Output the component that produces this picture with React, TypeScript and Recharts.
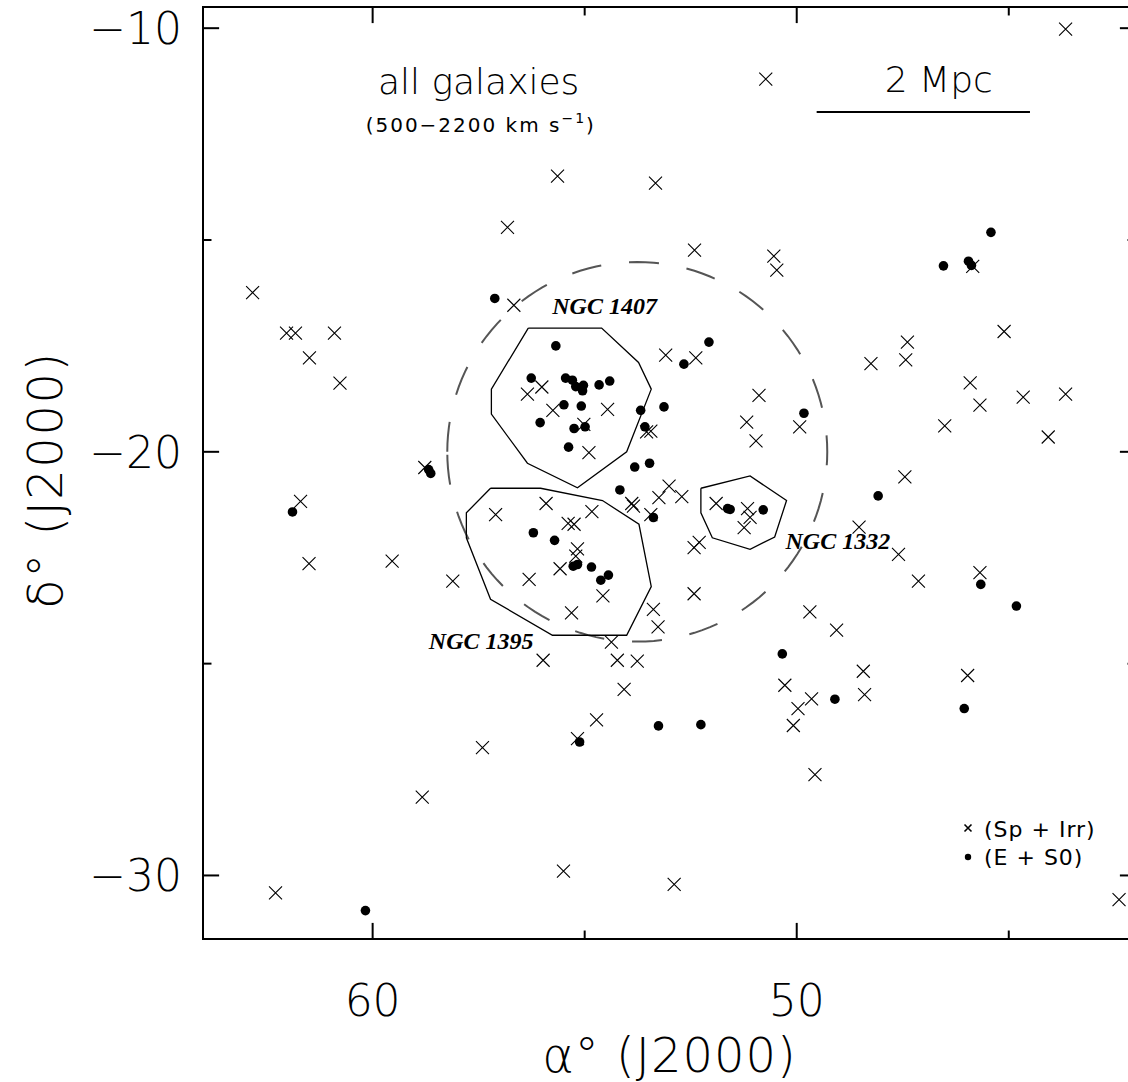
import React from 'react';
import {
  ScatterChart,
  Scatter,
  XAxis,
  YAxis,
  ReferenceArea,
  ReferenceLine,
  ReferenceDot,
  Legend,
} from 'recharts';

// ---------------- data ----------------
// Spiral + irregular galaxies (RA deg, Dec deg)
const spirals: [number, number][] = [
  [43.66, -10.02], [50.73, -11.2], [55.64, -13.49], [53.33, -13.66], [56.82, -14.7],
  [52.41, -15.24], [50.54, -15.38], [50.47, -15.71], [45.85, -15.62], [62.83, -16.24],
  [56.67, -16.54], [62.03, -17.2], [61.82, -17.2], [60.9, -17.2], [61.49, -17.78],
  [60.77, -18.38], [58.77, -20.37], [61.7, -21.17], [61.5, -22.64], [59.54, -22.58],
  [58.11, -23.05], [57.1, -21.48], [56.35, -18.64], [56.01, -18.47], [55.75, -19.02],
  [54.46, -19.0], [55.02, -19.35], [54.9, -20.02], [53.09, -17.72], [52.38, -17.78],
  [53.54, -19.53], [53.44, -19.51], [50.89, -18.67], [51.18, -19.3], [50.96, -19.74],
  [49.93, -19.41], [53.01, -20.81], [53.25, -21.08], [52.71, -21.06], [53.89, -21.22],
  [53.85, -21.28], [53.44, -21.48], [51.9, -21.22], [51.16, -21.34], [51.1, -21.55],
  [51.24, -21.79], [52.42, -22.26], [52.3, -22.14], [55.91, -21.22], [55.39, -21.69],
  [55.25, -21.71], [54.83, -21.41], [55.17, -22.29], [55.21, -22.46], [55.58, -22.76],
  [56.31, -23.01], [54.57, -23.4], [55.31, -23.8], [53.38, -23.72], [52.42, -23.35],
  [49.69, -23.78], [53.27, -24.13], [54.37, -24.49], [54.23, -24.92], [53.76, -24.94],
  [54.07, -25.61], [54.72, -26.33], [55.17, -26.77], [49.06, -24.21], [50.28, -25.51],
  [49.65, -25.83], [49.97, -26.06], [50.08, -26.46], [48.43, -25.18], [48.4, -25.73],
  [49.57, -27.62], [52.89, -30.21], [55.5, -29.9], [55.98, -24.92], [57.41, -26.98],
  [58.83, -28.15], [62.29, -30.41], [45.11, -17.16], [47.39, -17.41], [47.43, -17.83],
  [48.25, -17.92], [45.91, -18.37], [45.68, -18.9], [44.66, -18.71], [43.66, -18.64],
  [46.51, -19.39], [44.07, -19.65], [47.45, -20.59], [48.53, -21.78], [47.6, -22.42],
  [47.13, -23.05], [45.68, -22.85], [45.97, -25.28], [42.4, -30.57],
];

// Elliptical + lenticular galaxies (RA deg, Dec deg)
const earlyTypes: [number, number][] = [
  [57.12, -16.38], [58.68, -20.42], [58.63, -20.51], [61.89, -21.42], [55.68, -17.5],
  [56.26, -18.26], [55.45, -18.26], [55.29, -18.31], [55.21, -18.46], [55.03, -18.43],
  [55.05, -18.56], [54.66, -18.42], [54.41, -18.33], [55.49, -18.89], [55.08, -18.92],
  [56.05, -19.31], [55.25, -19.45], [54.99, -19.41], [55.38, -19.89], [53.68, -19.02],
  [53.13, -18.94], [53.58, -19.41], [52.66, -17.93], [52.07, -17.41], [49.83, -19.09],
  [53.82, -20.36], [53.47, -20.27], [54.17, -20.9], [53.38, -21.55], [51.63, -21.34],
  [51.57, -21.36], [50.79, -21.37], [56.21, -21.91], [55.71, -22.09], [55.27, -22.7],
  [55.17, -22.66], [54.84, -22.72], [54.62, -23.03], [54.44, -22.91], [55.12, -26.85],
  [53.26, -26.47], [52.26, -26.44], [50.34, -24.77], [49.1, -25.84], [48.08, -21.04],
  [45.66, -23.13], [44.82, -23.64], [46.05, -26.06], [60.17, -30.83], [45.42, -14.82],
  [46.54, -15.61], [45.95, -15.5], [45.88, -15.6],
];

// Group boundaries (closed polygons)
const ngc1407Outline: [number, number][] = [
  [56.33, -17.08], [54.6, -17.08], [53.73, -17.89], [53.43, -18.52], [54.01, -20.0],
  [55.17, -20.85], [56.35, -20.27], [57.2, -19.11], [57.2, -18.52], [56.33, -17.08],
];
const ngc1395Outline: [number, number][] = [
  [57.22, -20.86], [56.04, -20.86], [54.58, -21.15], [53.72, -21.71], [53.43, -23.18],
  [54.01, -24.33], [55.76, -24.33], [57.22, -23.48], [57.79, -22.03], [57.79, -21.44],
  [57.22, -20.86],
];
const ngc1332Outline: [number, number][] = [
  [52.26, -20.86], [51.1, -20.57], [50.24, -21.15], [50.52, -22.01], [51.1, -22.3],
  [51.99, -22.03], [52.26, -21.44], [52.26, -20.86],
];

// Dashed circle: centre (RA, Dec) and radius in degrees
const circleCentre: [number, number] = [53.76, -20.0];
const circleRadius = 4.48;

// Axis ticks
const xMajorTicks = [60, 50];
const xMinorTicks = [55, 45];
const yMajorTicks = [-10, -20, -30];
const yMinorTicks = [-15, -25];
const xDomain: [number, number] = [42, 64];
const yDomain: [number, number] = [-31.5, -9.5];

const legendLabels = ['(Sp + Irr)', '(E + S0)'];

// ---------------- helpers ----------------
const toPoints = (arr: [number, number][]) => arr.map(([x, y]) => ({ x, y }));

const circleOutline = Array.from({ length: 145 }, (_, i) => {
  const t = (i / 144) * 2 * Math.PI;
  return { x: circleCentre[0] + circleRadius * Math.cos(t), y: circleCentre[1] + circleRadius * Math.sin(t) };
});

const FONT = '"DejaVu Sans", "Liberation Sans", sans-serif';
const SERIF = '"Liberation Serif", "DejaVu Serif", serif';
const fmt = (v: number) => (v < 0 ? '\u2212' + Math.abs(v) : String(v));

const CrossShape = (p: any) => {
  const { cx, cy } = p;
  const s = 6.5;
  return (
    <path
      d={`M${cx - s},${cy - s}L${cx + s},${cy + s}M${cx - s},${cy + s}L${cx + s},${cy - s}`}
      stroke="#000"
      strokeWidth={1.1}
      fill="none"
    />
  );
};
const DotShape = (p: any) => <circle cx={p.cx} cy={p.cy} r={4.8} fill="#000" />;
const NoShape = () => <g />;

const XTick = (p: any) => (
  <text x={p.x} y={p.y + 77} textAnchor="middle" fontFamily={FONT} fontWeight={200} fontSize={44} fill="#000">
    {fmt(p.payload.value)}
  </text>
);
const YTick = (p: any) => (
  <text x={p.x - 21} y={p.y + 16} textAnchor="end" fontFamily={FONT} fontWeight={200} fontSize={44} fill="#000">
    {fmt(p.payload.value)}
  </text>
);

const XTitle = (p: any) => {
  const vb = p.viewBox || { x: 203, y: 939, width: 933, height: 143 };
  return (
    <text x={vb.x + vb.width / 2} y={vb.y + 133} textAnchor="middle" fontFamily={FONT} fontWeight={200} fontSize={48} letterSpacing={1} fill="#000">
      α° (J2000)
    </text>
  );
};
const YTitle = (p: any) => {
  const vb = p.viewBox || { x: 0, y: 7, width: 203, height: 932 };
  const cx = vb.x + 62;
  const cy = vb.y + 473;
  return (
    <text
      x={cx}
      y={cy}
      transform={`rotate(-90, ${cx}, ${cy})`}
      textAnchor="middle"
      fontFamily={FONT}
      fontWeight={200}
      fontSize={48}
      letterSpacing={1.5}
      fill="#000"
    >
      δ° (J2000)
    </text>
  );
};

const LegendContent = () => (
  <svg width={170} height={62} style={{ display: 'block' }}>
    <path d="M6.5,12.5L13.5,19.5M6.5,19.5L13.5,12.5" stroke="#000" strokeWidth={1.6} />
    <text x={26} y={25} fontFamily={FONT} fontSize={22} letterSpacing={1} fill="#000">
      {legendLabels[0]}
    </text>
    <circle cx={10} cy={45} r={3.2} fill="#000" />
    <text x={26} y={53} fontFamily={FONT} fontSize={22} letterSpacing={1} fill="#000">
      {legendLabels[1]}
    </text>
  </svg>
);

const textShape = (content: React.ReactNode, opts: any) => (p: any) => (
  <text x={p.cx} y={p.cy} fill="#000" {...opts}>
    {content}
  </text>
);

export default function App() {
  return (
    <div style={{ position: 'absolute', left: 0, top: 0, width: 1128, height: 1082, overflow: 'hidden', background: '#fff' }}>
      <ScatterChart width={1160} height={1082} margin={{ top: 7, right: 24, bottom: 0, left: 0 }}>
        <XAxis
          type="number"
          dataKey="x"
          domain={xDomain}
          reversed
          allowDataOverflow
          ticks={xMajorTicks}
          tick={XTick}
          tickSize={0}
          tickMargin={0}
          axisLine={false}
          tickLine={false}
          height={143}
          label={{ content: XTitle }}
        />
        <YAxis
          type="number"
          dataKey="y"
          domain={yDomain}
          allowDataOverflow
          ticks={yMajorTicks}
          tick={YTick}
          tickSize={0}
          tickMargin={0}
          axisLine={false}
          tickLine={false}
          width={203}
          label={{ content: YTitle }}
        />

        {/* frame */}
        <ReferenceArea x1={xDomain[1]} x2={xDomain[0]} y1={yDomain[0]} y2={yDomain[1]} fill="none" stroke="#000" strokeWidth={2} ifOverflow="visible" />

        {/* inward ticks */}
        {xMajorTicks.map((v) => (
          <ReferenceLine key={`xb${v}`} segment={[{ x: v, y: yDomain[0] }, { x: v, y: yDomain[0] + 0.38 }]} stroke="#000" strokeWidth={2} ifOverflow="visible" />
        ))}
        {xMajorTicks.map((v) => (
          <ReferenceLine key={`xt${v}`} segment={[{ x: v, y: yDomain[1] }, { x: v, y: yDomain[1] - 0.38 }]} stroke="#000" strokeWidth={2} ifOverflow="visible" />
        ))}
        {xMinorTicks.map((v) => (
          <ReferenceLine key={`xbm${v}`} segment={[{ x: v, y: yDomain[0] }, { x: v, y: yDomain[0] + 0.2 }]} stroke="#000" strokeWidth={2} ifOverflow="visible" />
        ))}
        {xMinorTicks.map((v) => (
          <ReferenceLine key={`xtm${v}`} segment={[{ x: v, y: yDomain[1] }, { x: v, y: yDomain[1] - 0.2 }]} stroke="#000" strokeWidth={2} ifOverflow="visible" />
        ))}
        {yMajorTicks.map((v) => (
          <ReferenceLine key={`yl${v}`} segment={[{ x: xDomain[1], y: v }, { x: xDomain[1] - 0.38, y: v }]} stroke="#000" strokeWidth={2} ifOverflow="visible" />
        ))}
        {yMajorTicks.map((v) => (
          <ReferenceLine key={`yr${v}`} segment={[{ x: xDomain[0], y: v }, { x: xDomain[0] + 0.38, y: v }]} stroke="#000" strokeWidth={2} ifOverflow="visible" />
        ))}
        {yMinorTicks.map((v) => (
          <ReferenceLine key={`ylm${v}`} segment={[{ x: xDomain[1], y: v }, { x: xDomain[1] - 0.2, y: v }]} stroke="#000" strokeWidth={2} ifOverflow="visible" />
        ))}
        {yMinorTicks.map((v) => (
          <ReferenceLine key={`yrm${v}`} segment={[{ x: xDomain[0], y: v }, { x: xDomain[0] + 0.2, y: v }]} stroke="#000" strokeWidth={2} ifOverflow="visible" />
        ))}

        {/* scale bar */}
        <ReferenceLine segment={[{ x: 49.53, y: -11.98 }, { x: 44.5, y: -11.98 }]} stroke="#000" strokeWidth={2} ifOverflow="visible" />

        {/* dashed circle */}
        <Scatter
          data={circleOutline}
          line={{ stroke: '#555', strokeWidth: 2, strokeDasharray: '30 28', fill: 'none' }}
          lineType="joint"
          shape={NoShape}
          isAnimationActive={false}
          legendType="none"
        />
        {/* group outlines */}
        {[ngc1407Outline, ngc1395Outline, ngc1332Outline].map((poly, i) => (
          <Scatter
            key={`poly${i}`}
            data={toPoints(poly)}
            line={{ stroke: '#000', strokeWidth: 1.3, fill: 'none' }}
            lineType="joint"
            shape={NoShape}
            isAnimationActive={false}
            legendType="none"
          />
        ))}

        <Scatter name={legendLabels[0]} data={toPoints(spirals)} shape={CrossShape} isAnimationActive={false} />
        <Scatter name={legendLabels[1]} data={toPoints(earlyTypes)} shape={DotShape} isAnimationActive={false} />

        {/* annotations */}
        <ReferenceDot x={57.5} y={-11.56} r={0} ifOverflow="visible"
          shape={textShape('all galaxies', { textAnchor: 'middle', fontFamily: FONT, fontWeight: 200, fontSize: 36 })} />
        <ReferenceDot x={57.45} y={-12.46} r={0} ifOverflow="visible"
          shape={textShape(
            <>
              <tspan>(500−2200 km s</tspan>
              <tspan dy={-9} fontSize={14}>−1</tspan>
              <tspan dy={9}>)</tspan>
            </>,
            { textAnchor: 'middle', fontFamily: FONT, fontSize: 20, letterSpacing: 2 }
          )} />
        <ReferenceDot x={46.65} y={-11.51} r={0} ifOverflow="visible"
          shape={textShape('2 Mpc', { textAnchor: 'middle', fontFamily: FONT, fontWeight: 200, fontSize: 36 })} />
        <ReferenceDot x={54.53} y={-16.75} r={0} ifOverflow="visible"
          shape={textShape('NGC 1407', { textAnchor: 'middle', fontFamily: SERIF, fontStyle: 'italic', fontWeight: 700, fontSize: 24 })} />
        <ReferenceDot x={49.03} y={-22.3} r={0} ifOverflow="visible"
          shape={textShape('NGC 1332', { textAnchor: 'middle', fontFamily: SERIF, fontStyle: 'italic', fontWeight: 700, fontSize: 24 })} />
        <ReferenceDot x={57.44} y={-24.66} r={0} ifOverflow="visible"
          shape={textShape('NGC 1395', { textAnchor: 'middle', fontFamily: SERIF, fontStyle: 'italic', fontWeight: 700, fontSize: 24 })} />

        <Legend
          layout="vertical"
          align="center"
          verticalAlign="middle"
          content={LegendContent}
          wrapperStyle={{ left: 958, top: 812, width: 170, height: 62 }}
        />
      </ScatterChart>
    </div>
  );
}
